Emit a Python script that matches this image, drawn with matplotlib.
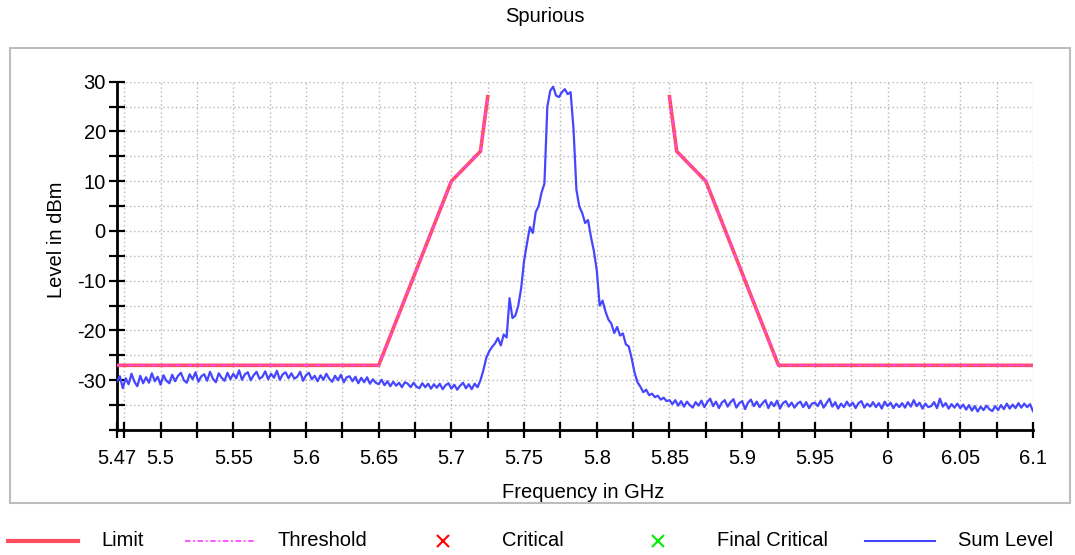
import numpy as np
import matplotlib.pyplot as plt
from matplotlib.lines import Line2D
from matplotlib.patches import Rectangle
from matplotlib.ticker import MultipleLocator, FixedLocator, FuncFormatter

plt.rcParams['font.family'] = ['Liberation Sans', 'DejaVu Sans']
plt.rcParams['axes.unicode_minus'] = False

# limit mask (two segments), threshold follows the same values
limit_left_freq = [5.47, 5.65, 5.70, 5.72, 5.725]
limit_left_level = [-27, -27, 10, 16, 27]
limit_right_freq = [5.85, 5.855, 5.875, 5.925, 6.1]
limit_right_level = [27, 16, 10, -27, -27]

# sum level trace, sweep 5.47 .. 6.1 GHz in 2 MHz steps
sweep_start = 5.47
sweep_stop = 6.1
sum_level = [
    -30.2, -29.2, -31.6, -29.6, -30.8, -28.7, -30.3, -31.2, -29.1, -30.6,
    -29.4, -30.5, -28.6, -30.2, -29.3, -30.9, -29.0, -30.1, -30.6, -28.9,
    -30.2, -29.1, -28.5, -30.0, -30.5, -28.8, -29.8, -28.4, -30.3, -29.2,
    -28.8, -30.1, -28.3, -29.7, -30.4, -28.6, -29.5, -30.1, -28.5, -29.8,
    -28.7, -29.6, -28.0, -29.9, -28.8, -28.4, -30.0, -29.0, -28.3, -29.7,
    -29.3, -28.2, -29.8, -28.7, -29.5, -28.1, -29.9, -28.8, -28.4, -29.6,
    -28.6, -29.7, -29.3, -28.3, -30.1, -29.0, -28.5, -29.8, -29.1, -30.2,
    -29.0, -29.9, -28.7, -29.7, -30.3, -29.1, -30.0, -28.9, -30.4, -29.4,
    -29.2, -30.2, -29.3, -30.6, -29.5, -30.4, -29.4, -30.7, -29.8, -30.5,
    -30.8, -29.9, -31.0, -30.2, -31.2, -30.3, -31.1, -30.5, -31.4, -30.4,
    -30.7, -31.4, -30.5, -31.3, -31.6, -30.6, -31.4, -30.7, -31.7, -30.8,
    -31.5, -30.7, -31.8, -31.0, -30.6, -31.7, -30.9, -31.9, -31.1, -30.5,
    -31.6, -30.8, -31.8, -30.7, -31.4, -30.0, -28.0, -25.5, -24.2, -23.3,
    -22.6, -21.5, -23.0, -20.8, -21.4, -13.5, -17.5, -17.0, -15.0, -11.5,
    -6.0, -2.5, 0.8, -0.4, 3.8, 5.0, 7.7, 9.5, 25.0, 28.2,
    29.0, 27.2, 26.9, 27.9, 28.5, 27.5, 27.9, 20.5, 8.3, 4.9,
    3.6, 1.6, 2.2, -1.2, -4.0, -7.9, -15.0, -14.0, -16.2, -17.8,
    -18.6, -20.5, -19.3, -21.0, -20.6, -22.8, -23.2, -25.6, -28.5, -30.4,
    -31.3, -32.4, -31.9, -33.0, -32.7, -33.4, -33.1, -33.9, -33.5, -34.2,
    -34.0, -34.8, -34.0, -35.1, -34.2, -35.3, -34.3, -35.0, -35.5, -34.4,
    -35.1, -34.1, -35.4, -34.4, -33.7, -35.2, -34.3, -35.6, -34.5, -34.0,
    -35.3, -34.4, -33.8, -35.5, -34.6, -34.2, -35.8, -34.5, -33.9, -35.2,
    -34.3, -35.4, -34.6, -34.0, -35.6, -34.4, -35.2, -34.1, -35.7, -34.6,
    -34.2, -35.3, -34.5, -35.5, -34.7, -34.3, -35.4, -34.4, -35.6, -34.7,
    -34.5, -35.2, -34.1, -35.5, -34.6, -33.7, -35.3, -34.4, -35.7, -34.7,
    -35.4, -34.3, -35.2, -34.5, -35.6, -34.6, -34.2, -35.5, -34.7, -35.3,
    -34.4, -35.4, -34.6, -35.7, -34.3, -35.2, -34.5, -35.6, -34.7, -35.4,
    -34.6, -35.5, -34.4, -35.3, -34.0, -35.2, -34.5, -35.7, -34.7, -35.4,
    -35.2, -34.4, -35.6, -33.7, -35.3, -34.6, -35.7, -34.8, -35.5, -34.7,
    -35.6, -34.9, -35.9, -35.0, -36.1, -35.2, -36.3, -35.3, -36.0, -35.1,
    -35.8, -36.2, -35.2, -36.0, -35.0, -35.8, -34.7, -35.7, -34.9, -35.6,
    -34.6, -35.5, -34.7, -35.4, -34.8, -36.2,
]
sum_freq = np.linspace(sweep_start, sweep_stop, len(sum_level))

x_major = [5.47, 5.5, 5.55, 5.6, 5.65, 5.7, 5.75, 5.8, 5.85, 5.9, 5.95, 6.0, 6.05, 6.1]
y_major = [-30, -20, -10, 0, 10, 20, 30]

limit_color = '#ff4d5e'
thresh_color = '#ff44ff'
sum_color = '#4646ff'

fig = plt.figure(figsize=(10.75, 5.55), dpi=100)
ax = fig.add_axes([0.1088, 0.2252, 0.8521, 0.6276])

# outer frame
fig.add_artist(Rectangle((0.0093, 0.0937), 0.986, 0.8198, transform=fig.transFigure,
                         fill=False, ec='#bdbdbd', lw=1.5))

ax.plot(limit_left_freq, limit_left_level, color=limit_color, lw=2.6, zorder=3)
ax.plot(limit_right_freq, limit_right_level, color=limit_color, lw=2.6, zorder=3)
ax.plot(limit_left_freq, limit_left_level, color=thresh_color, lw=1.2, ls=(0, (3, 1.5, 1, 1.5)), zorder=4)
ax.plot(limit_right_freq, limit_right_level, color=thresh_color, lw=1.2, ls=(0, (3, 1.5, 1, 1.5)), zorder=4)
ax.plot(sum_freq, sum_level, color=sum_color, lw=1.6, zorder=5)

ax.set_xlim(5.47, 6.1)
ax.set_ylim(-40, 30)

ax.xaxis.set_major_locator(FixedLocator(x_major))
ax.xaxis.set_minor_locator(MultipleLocator(0.025))
ax.xaxis.set_major_formatter(FuncFormatter(lambda v, p: '%g' % round(v, 3)))
ax.yaxis.set_major_locator(FixedLocator(y_major))
ax.yaxis.set_minor_locator(MultipleLocator(5))

ax.tick_params(which='both', direction='inout', length=12, width=1.6, color='black')
ax.tick_params(axis='x', which='major', pad=8, labelsize=14.5)
ax.tick_params(axis='y', which='major', pad=2, labelsize=14.5)

for s in ['top', 'right']:
    ax.spines[s].set_visible(False)
for s in ['left', 'bottom']:
    ax.spines[s].set_linewidth(2)

ax.grid(True, which='both', color='#b5b5b5', lw=1, ls=(0, (1, 2)))
ax.set_axisbelow(True)

ax.set_xlabel('Frequency in GHz', fontsize=14.5)
ax.set_ylabel('Level in dBm', fontsize=14.5)
ax.xaxis.set_label_coords(0.509, -0.178)
ax.xaxis.label.set_va('center')
ax.yaxis.set_label_coords(-0.0655, 0.545)
ax.yaxis.label.set_va('center')

fig.text(0.507, 1 - 17 / 555, 'Spurious', ha='center', va='center', fontsize=14.5)

# legend row under the frame
W, H = 1075, 555
ly = 1 - 541 / H
legend_items = [
    ('Limit', 8, 101, 'line', limit_color),
    ('Threshold', 185, 278, 'dashdot', thresh_color),
    ('Critical', 443, 502, 'x', '#ff0000'),
    ('Final Critical', 658, 717, 'x', '#00ee00'),
    ('Sum Level', 865, 958, 'line', sum_color),
]
for label, hx, tx, kind, col in legend_items:
    if kind == 'line':
        fig.add_artist(Line2D([hx / W, (hx + 70) / W], [ly, ly], transform=fig.transFigure,
                              color=col, lw=3 if label == 'Limit' else 1.5))
    elif kind == 'dashdot':
        fig.add_artist(Line2D([hx / W, (hx + 70) / W], [ly, ly], transform=fig.transFigure,
                              color=col, lw=1.3, ls=(0, (3, 1.5, 1, 1.5))))
    else:
        fig.add_artist(Line2D([hx / W], [ly], transform=fig.transFigure, color=col,
                              marker='x', ms=9, mew=1.5, ls='none'))
    fig.text(tx / W, ly, label, ha='left', va='center', fontsize=14.5)

fig.savefig('out.png', dpi=100)
